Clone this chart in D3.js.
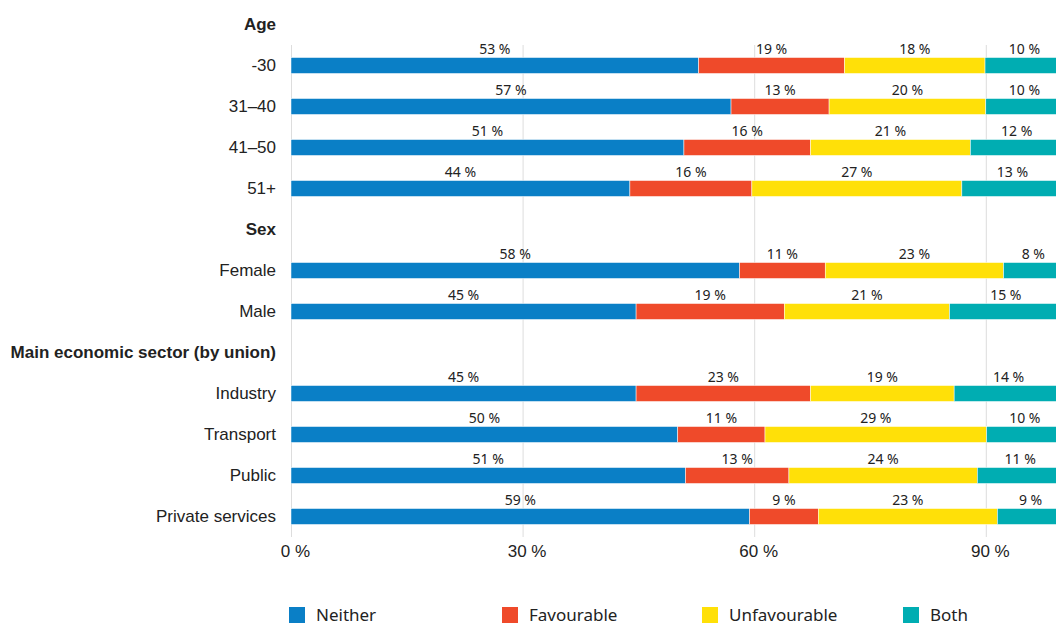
<!DOCTYPE html>
<html>
<head>
<meta charset="utf-8">
<script src="https://cdn.jsdelivr.net/npm/d3@7"></script>
<style>
  html, body { margin: 0; padding: 0; background: #fff; }
  svg { display: block; font-family: "Noto Sans", sans-serif; }
</style>
</head>
<body>
<div id="chart"></div>
<script>
// Rows in display order; header rows are drawn bold with no bar
const rows = [
  "Age", "-30", "31–40", "41–50", "51+",
  "Sex", "Female", "Male",
  "Main economic sector (by union)", "Industry", "Transport", "Public", "Private services"
];
const headers = ["Age", "Sex", "Main economic sector (by union)"];
const categories = ["-30", "31–40", "41–50", "51+", "Female", "Male", "Industry", "Transport", "Public", "Private services"];

const neither      = [52.8, 57.0, 50.9, 43.9, 58.1, 44.7, 44.7, 50.1, 51.1, 59.4];
const favourable   = [18.9, 12.7, 16.4, 15.8, 11.1, 19.2, 22.6, 11.3, 13.4, 8.9];
const unfavourable = [18.2, 20.3, 20.7, 27.2, 23.1, 21.4, 18.6, 28.7, 24.4, 23.2];
const both         = [10.2, 10.0, 12.0, 13.1, 7.7, 14.6, 14.1, 9.9, 11.1, 8.6];

const seriesNames = ["Neither", "Favourable", "Unfavourable", "Both"];
const seriesColors = ["#0a7fc6", "#ef4a2a", "#ffe008", "#00adb2"];
const xTicks = [0, 30, 60, 90];

const width = 1056, height = 625;
const margin = { left: 291, top: 4, bottom: 88 };
const plotBottom = height - margin.bottom; // 537

const table = categories.map((c, i) => ({
  category: c,
  Neither: neither[i],
  Favourable: favourable[i],
  Unfavourable: unfavourable[i],
  Both: both[i],
}));

const stacked = d3.stack().keys(seriesNames)(table);

const x = d3.scaleLinear().domain([0, 100]).range([margin.left, margin.left + 772]);
const y = d3.scaleBand()
  .domain(rows)
  .range([margin.top, plotBottom])
  .paddingInner(0.61)
  .paddingOuter(0.305);
const color = d3.scaleOrdinal().domain(seriesNames).range(seriesColors);

const svg = d3.select("#chart").append("svg")
  .attr("width", width)
  .attr("height", height);

// gridlines + tick labels
const gridTop = y(rows[1]) - (y.step() - y.bandwidth()) / 2;
const xAxis = svg.append("g")
  .attr("transform", `translate(0,${plotBottom})`)
  .call(d3.axisBottom(x)
    .tickValues(xTicks)
    .tickSize(-(plotBottom - gridTop))
    .tickPadding(8)
    .tickFormat(d => d + " %"));
xAxis.select(".domain").remove();
xAxis.selectAll(".tick line").attr("stroke", "#dddddd");
xAxis.selectAll(".tick text")
  .attr("dx", 4)
  .attr("fill", "#222")
  .style("font-size", "17px");

// category labels
const yAxis = svg.append("g")
  .attr("transform", `translate(${margin.left},0)`)
  .call(d3.axisLeft(y).tickSize(0).tickPadding(15));
yAxis.select(".domain").remove();
yAxis.selectAll(".tick text")
  .attr("fill", "#222")
  .style("font-size", "17px")
  .style("font-weight", d => headers.includes(d) ? "bold" : "normal");

// bars
const layers = svg.append("g").selectAll("g")
  .data(stacked)
  .join("g")
  .attr("fill", d => color(d.key));

layers.selectAll("rect")
  .data(d => d)
  .join("rect")
  .attr("x", d => x(d[0]))
  .attr("y", d => y(d.data.category))
  .attr("width", d => x(d[1]) - x(d[0]))
  .attr("height", y.bandwidth())
  .attr("stroke", "#fff")
  .attr("stroke-width", 0.5);

// value labels above each segment
const labels = svg.append("g");
stacked.forEach(layer => {
  labels.selectAll(null)
    .data(layer)
    .join("text")
    .attr("x", d => (x(d[0]) + x(d[1])) / 2)
    .attr("y", d => y(d.data.category) - 4)
    .attr("text-anchor", "middle")
    .attr("fill", "#222")
    .style("font-size", "14px")
    .text(d => Math.round(d[1] - d[0]) + " %");
});

// legend
const legendX = [289, 502, 702, 903];
const legend = svg.append("g")
  .selectAll("g")
  .data(seriesNames)
  .join("g")
  .attr("transform", (d, i) => `translate(${legendX[i]},607)`);
legend.append("rect")
  .attr("width", 16)
  .attr("height", 16)
  .attr("fill", d => color(d));
legend.append("text")
  .attr("x", 27)
  .attr("y", 14)
  .attr("fill", "#222")
  .style("font-size", "17px")
  .text(d => d);
</script>
</body>
</html>
